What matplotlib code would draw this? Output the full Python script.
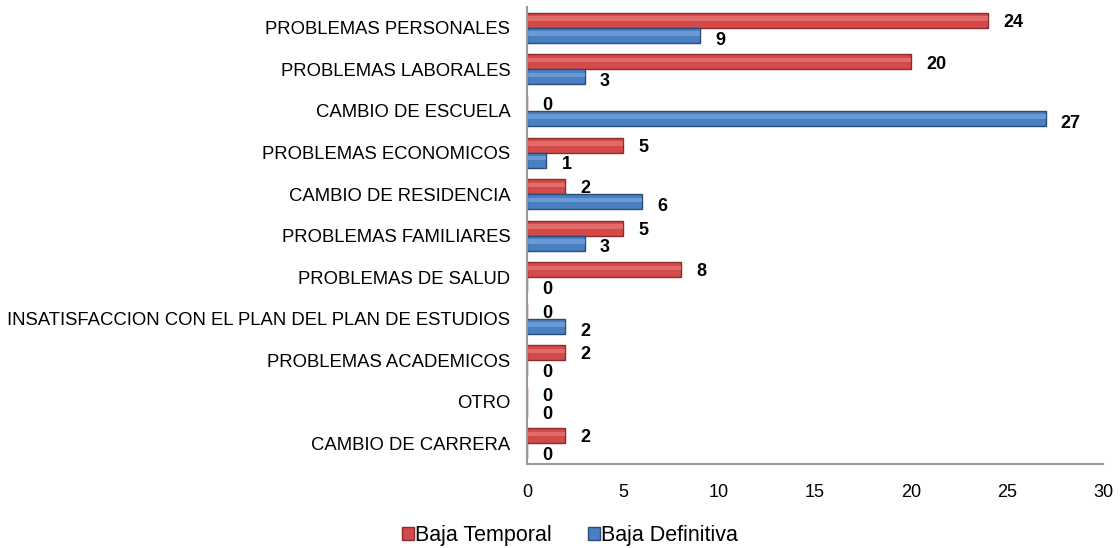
import matplotlib.pyplot as plt
import numpy as np

plt.rcParams['font.family'] = ['Liberation Sans', 'DejaVu Sans']

categorias = ['PROBLEMAS PERSONALES', 'PROBLEMAS LABORALES', 'CAMBIO DE ESCUELA',
              'PROBLEMAS ECONOMICOS', 'CAMBIO DE RESIDENCIA', 'PROBLEMAS FAMILIARES',
              'PROBLEMAS DE SALUD', 'INSATISFACCION CON EL PLAN DEL PLAN DE ESTUDIOS',
              'PROBLEMAS ACADEMICOS', 'OTRO', 'CAMBIO DE CARRERA']
baja_temporal = [24, 20, 0, 5, 2, 5, 8, 0, 2, 0, 2]
baja_definitiva = [9, 3, 27, 1, 6, 3, 0, 2, 0, 0, 0]
xticks = [0, 5, 10, 15, 20, 25, 30]

fig = plt.figure(figsize=(11.2, 5.48), dpi=100)
ax = fig.add_axes([0.4705, 0.153, 0.5145, 0.834])

y = np.arange(len(categorias))
h = 0.36
rojo = ax.barh(y - h / 2, baja_temporal, height=h, color='#d24a4a',
               edgecolor='#8c2b2b', linewidth=1, label='Baja Temporal')
azul = ax.barh(y + h / 2, baja_definitiva, height=h, color='#4a7fc2',
               edgecolor='#2a4c78', linewidth=1, label='Baja Definitiva')
# brillo superior (efecto 3D)
ax.barh(y - h * 0.62, baja_temporal, height=h * 0.3, color='#e46a6a', linewidth=0)
ax.barh(y + h * 0.38, baja_definitiva, height=h * 0.3, color='#6a9ad6', linewidth=0)

# etiquetas de valor
for i in range(len(categorias)):
    ax.annotate(str(baja_temporal[i]), (baja_temporal[i], y[i] - h / 2),
                xytext=(11, -1.5), textcoords='offset points', fontsize=13,
                fontweight='bold', ha='left', va='center')
    ax.annotate(str(baja_definitiva[i]), (baja_definitiva[i], y[i] + h / 2),
                xytext=(11, -3.5), textcoords='offset points', fontsize=13,
                fontweight='bold', ha='left', va='center')

ax.set_ylim(len(categorias) - 0.5, -0.5)
ax.set_xlim(0, 30)
ax.set_yticks(y)
ax.set_yticklabels(categorias, fontsize=13.3)
ax.set_xticks(xticks)
ax.tick_params(axis='x', labelsize=13, length=0, pad=14)
ax.tick_params(axis='y', length=0, pad=12)
for s in ['top', 'right']:
    ax.spines[s].set_visible(False)
ax.spines['left'].set_color('#999999')
ax.spines['bottom'].set_color('#999999')
ax.spines['left'].set_linewidth(1.5)
ax.spines['bottom'].set_linewidth(1.5)

fig.legend(handles=[rojo, azul], loc='center', bbox_to_anchor=(0.509, 0.022),
           ncol=2, frameon=False, fontsize=15.5, handlelength=0.55, handleheight=0.55,
           handletextpad=0.05, columnspacing=1.7, borderpad=0)

fig.savefig('out.png', dpi=100)
